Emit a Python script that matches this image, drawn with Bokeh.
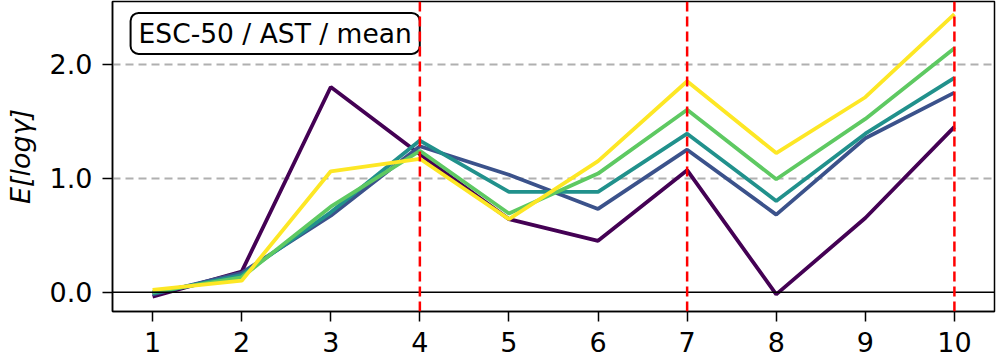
from bokeh.plotting import figure
from bokeh.models import Range1d, FixedTicker, Span, Label, CustomJSTickFormatter
from bokeh.embed import file_html
from bokeh.resources import INLINE

x = [1, 2, 3, 4, 5, 6, 7, 8, 9, 10]
s1 = [-0.04, 0.18, 1.80, 1.21, 0.64, 0.45, 1.07, -0.02, 0.65, 1.45]
s2 = [-0.02, 0.17, 0.67, 1.28, 1.03, 0.73, 1.25, 0.68, 1.35, 1.75]
s3 = [-0.01, 0.15, 0.70, 1.33, 0.88, 0.88, 1.39, 0.80, 1.39, 1.88]
s4 = [0.00, 0.13, 0.75, 1.24, 0.69, 1.04, 1.60, 0.99, 1.52, 2.14]
s5 = [0.02, 0.10, 1.06, 1.17, 0.64, 1.15, 1.85, 1.22, 1.71, 2.44]
series = [s1, s2, s3, s4, s5]
colors = ["#440154", "#3b528b", "#21918c", "#5ec962", "#fde725"]
vlines = [4, 7, 10]
y_ticks = [0.0, 1.0, 2.0]
title_text = "ESC-50 / AST / mean"
y_label = "E[logγ]"

FONT = "DejaVu Sans"

p = figure(frame_width=882, frame_height=310, output_backend="svg", toolbar_location=None,
           x_range=Range1d(0.55, 10.45), y_range=Range1d(-0.17, 2.55),
           min_border_left=112, min_border_right=2, min_border_top=1, min_border_bottom=49)
p.background_fill_color = "white"
p.border_fill_color = "white"
p.outline_line_color = "black"
p.outline_line_width = 1.5

p.xgrid.visible = False
p.ygrid.ticker = FixedTicker(ticks=[1.0, 2.0])
p.ygrid.grid_line_color = "#b0b0b0"
p.ygrid.grid_line_dash = "8 5"
p.ygrid.grid_line_width = 2

for ax in (p.xaxis[0], p.yaxis[0]):
    ax.axis_line_color = "black"
    ax.axis_line_width = 1.5
    ax.major_tick_line_width = 1.5
    ax.major_tick_line_color = "black"
    ax.major_tick_out = 10
    ax.major_tick_in = 0
    ax.minor_tick_line_color = None
    ax.major_label_text_font = FONT
    ax.major_label_text_font_size = "27px"
    ax.major_label_text_color = "black"

p.xaxis.ticker = FixedTicker(ticks=x)
p.xaxis.major_label_standoff = 10
p.yaxis.ticker = FixedTicker(ticks=y_ticks)
p.yaxis.formatter = CustomJSTickFormatter(code="return tick.toFixed(1);")
p.yaxis.major_label_standoff = 10
p.yaxis.axis_label = y_label
p.yaxis.axis_label_text_font = FONT
p.yaxis.axis_label_text_font_style = "italic"
p.yaxis.axis_label_text_font_size = "27px"
p.yaxis.axis_label_text_color = "black"
p.yaxis.axis_label_standoff = 11

zero = Span(location=0, dimension="width", line_color="black", line_width=1.5)
p.add_layout(zero)

for s, c in zip(series, colors):
    p.line(x, s, line_color=c, line_width=3.8)

for v in vlines:
    p.add_layout(Span(location=v, dimension="height", line_color="red",
                      line_width=2.5, line_dash="10 5", level="overlay"))

lab = Label(x=0.753, y=2.45, text=title_text,
            text_font=FONT, text_font_size="26.5px", text_color="black",
            text_baseline="top", text_align="left",
            border_line_color="black", border_line_width=2,
            background_fill_color="white", border_radius=8,
            padding=dict(left=8, right=8, top=5, bottom=5))
p.add_layout(lab)

open("out.html", "w").write(file_html(p, INLINE))
